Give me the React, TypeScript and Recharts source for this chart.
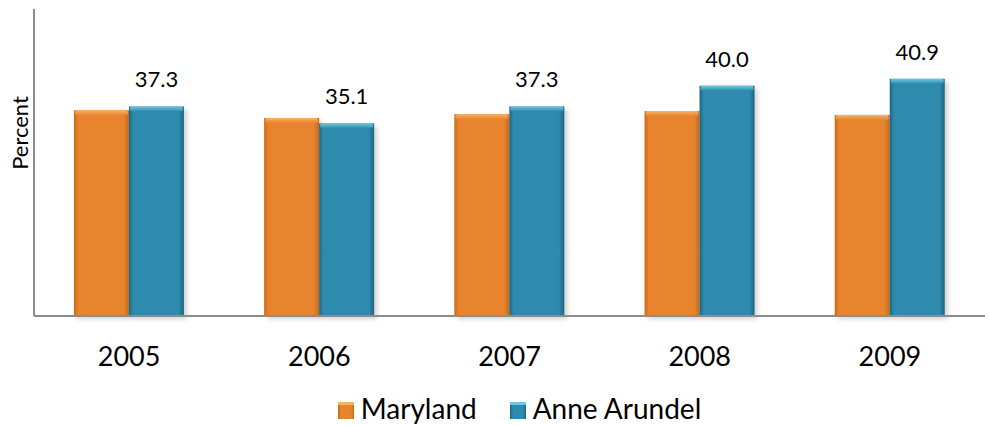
import React from 'react'
import { BarChart, Bar, XAxis, YAxis, LabelList } from 'recharts'

const years = ['2005', '2006', '2007', '2008', '2009']
const maryland = [36.8, 35.8, 36.3, 36.7, 36.2]
const anneArundel = [37.3, 35.1, 37.3, 40.0, 40.9]

const seriesInfo = [
  { key: 'maryland', name: 'Maryland', color: '#E8842E', dark: '#C96A18', light: '#F6B468' },
  { key: 'anneArundel', name: 'Anne Arundel', color: '#2E8BAE', dark: '#1D6683', light: '#6FC7E4' },
]

const data = years.map((year, i) => ({
  year,
  maryland: maryland[i],
  anneArundel: anneArundel[i],
}))

const FONT = 'Lato, "Open Sans", sans-serif'

const makeShape = (idx: number) => (props: any) => {
  const { x, y, width, height } = props
  if (!height || height <= 0) return null
  const s = seriesInfo[idx]
  return (
    <g>
      <rect
        x={x + 3}
        y={y + 3}
        width={width}
        height={height}
        fill="#000"
        opacity={0.18}
        filter="url(#barShadow)"
      />
      <rect x={x} y={y} width={width} height={height} fill={`url(#body-${s.key})`} />
      <rect x={x + 1} y={y} width={width - 2} height={5} rx={2} fill={`url(#top-${s.key})`} />
    </g>
  )
}

const XTick = (props: any) => {
  const { x, y, payload } = props
  return (
    <text x={x} y={y + 42} textAnchor="middle" fontSize={27} fontFamily={FONT} fill="#000">
      {payload.value}
    </text>
  )
}

const YLabel = () => (
  <text
    x={28}
    y={133}
    transform="rotate(-90, 28, 133)"
    textAnchor="middle"
    fontSize={22}
    fontFamily={FONT}
    fill="#000"
  >
    Percent
  </text>
)

const ChartLegend = () => (
  <div
    style={{
      position: 'absolute',
      left: 0,
      top: 394,
      width: 989,
      paddingLeft: 50,
      boxSizing: 'border-box',
      display: 'flex',
      justifyContent: 'center',
      alignItems: 'center',
      fontFamily: FONT,
      fontSize: 28,
      lineHeight: '28px',
      color: '#000',
    }}
  >
    {seriesInfo.map((s, i) => (
      <div key={s.key} style={{ display: 'flex', alignItems: 'center', marginLeft: i > 0 ? 33 : 0 }}>
        <span
          style={{
            display: 'inline-block',
            width: 16,
            height: 14,
            background: `linear-gradient(to right, ${s.dark}, ${s.color} 20%, ${s.color} 80%, ${s.dark})`,
            borderTop: `3px solid ${s.light}`,
            marginRight: 7,
            marginTop: 4,
          }}
        />
        <span>{s.name}</span>
      </div>
    ))}
  </div>
)

export default function App() {
  return (
    <div style={{ position: 'absolute', left: 0, top: 0, width: 989, height: 425, background: '#fff' }}>
      <BarChart
        width={989}
        height={425}
        data={data}
        margin={{ top: 9, right: 4, left: 0, bottom: 59 }}
        barCategoryGap="21%"
        barGap={0}
      >
        <defs>
          <filter id="barShadow" x="-20%" y="-20%" width="140%" height="140%">
            <feGaussianBlur stdDeviation="2.5" />
          </filter>
          {seriesInfo.map((s) => (
            <linearGradient key={s.key} id={`body-${s.key}`} x1="0" y1="0" x2="1" y2="0">
              <stop offset="0%" stopColor={s.dark} />
              <stop offset="8%" stopColor={s.color} />
              <stop offset="90%" stopColor={s.color} />
              <stop offset="100%" stopColor={s.dark} />
            </linearGradient>
          ))}
          {seriesInfo.map((s) => (
            <linearGradient key={s.key} id={`top-${s.key}`} x1="0" y1="0" x2="0" y2="1">
              <stop offset="0%" stopColor={s.light} />
              <stop offset="100%" stopColor={s.color} />
            </linearGradient>
          ))}
        </defs>
        <XAxis
          dataKey="year"
          height={50}
          tickLine={false}
          axisLine={{ stroke: '#8C8C8C', strokeWidth: 2 }}
          tick={<XTick />}
        />
        <YAxis
          domain={[10, 50]}
          width={34}
          tick={false}
          tickLine={false}
          axisLine={{ stroke: '#8C8C8C', strokeWidth: 2 }}
          label={<YLabel />}
        />
        <Bar
          dataKey="maryland"
          name="Maryland"
          fill={seriesInfo[0].color}
          shape={makeShape(0)}
          isAnimationActive={false}
        />
        <Bar
          dataKey="anneArundel"
          name="Anne Arundel"
          fill={seriesInfo[1].color}
          shape={makeShape(1)}
          isAnimationActive={false}
        >
          <LabelList
            dataKey="anneArundel"
            position="top"
            offset={19}
            formatter={(v: any) => Number(v).toFixed(1)}
            style={{ fontSize: 22, fontFamily: FONT, fill: '#000' }}
          />
        </Bar>
      </BarChart>
      <ChartLegend />
    </div>
  )
}
